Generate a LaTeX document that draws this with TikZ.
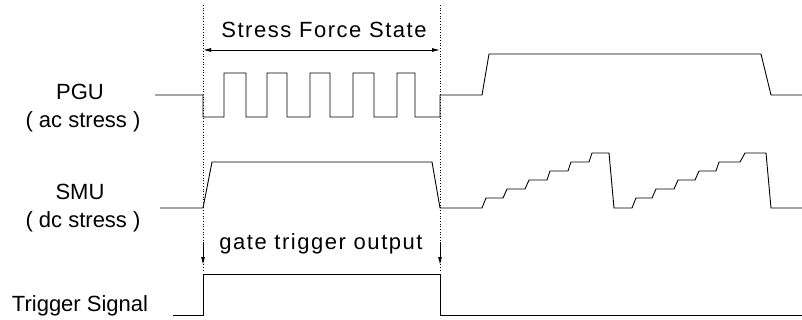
\documentclass[tikz,border=0pt]{standalone}
\usepackage{fontspec}
\setmainfont{Liberation Sans}
\usetikzlibrary{arrows.meta}

\begin{document}
\begin{tikzpicture}[x=1pt, y=-1pt,
    wave/.style={line width=0.9pt, line join=miter},
    guide/.style={dotted, line width=0.7pt},
    lbl/.style={font=\fontsize{22}{26}\selectfont, anchor=base, inner sep=0pt},
    wide/.style={lbl, font=\fontsize{22}{26}\selectfont\addfontfeatures{LetterSpace=7}},
    trig/.style={-{Latex[length=8pt,width=4pt]}, line width=0.9pt}]
        \useasboundingbox (0,0) rectangle (802,320);

        % Stress window
        \coordinate (wl) at (203,5);
        \coordinate (wr) at (440,5);
        \draw[guide] (wl) -- (203,272);
        \draw[guide] (wr) -- (440,272);
        \draw[{Latex[length=8pt,width=4pt]}-{Latex[length=8pt,width=4pt]}, line width=0.9pt] (203,50) -- (440,50);
        \node[wide] (force) at (324,38) {Stress Force State};

        % Labels
        \node[lbl] (pgu) at (80,100) {PGU};
        \node[lbl] (pgux) at (83,128) {( ac stress )};
        \node[lbl] (smu) at (80,200) {SMU};
        \node[lbl] (smux) at (83,228) {( dc stress )};
        \node[lbl] (trg) at (80,311) {Trigger Signal};

        % PGU (ac stress)
        \draw[wave] (155,95) -- (203,95) -- (203,117) -- (224,117) -- (224,73) -- (246,73)
            -- (246,117) -- (267,117) -- (267,73) -- (287,73) -- (287,117) -- (310,117)
            -- (310,73) -- (330,73) -- (330,117) -- (353,117) -- (353,73) -- (374,73)
            -- (374,117) -- (397,117) -- (397,73) -- (415,73) -- (415,117) -- (440,117)
            -- (440,95) -- (482,95) -- (489,54) -- (761,54) -- (771,95) -- (802,95);

        % SMU (dc stress)
        \draw[wave] (160,208) -- (203,208) -- (212,162) -- (432,162) -- (440,208) -- (482,208)
            -- (486,198) -- (503,198) -- (507,189) -- (525,189) -- (529,180) -- (547,180)
            -- (550,171) -- (568,171) -- (571,162) -- (589,162) -- (592,153) -- (609,153)
            -- (614,208) -- (632,208)
            -- (636,198) -- (652,198) -- (656,189) -- (674,189) -- (678,180) -- (695,180)
            -- (699,171) -- (716,171) -- (719,162) -- (740,162) -- (745,153) -- (766,153)
            -- (771,208) -- (802,208);

        % Gate trigger output
        \draw[trig] (203,242) -- (203,265);
        \draw[trig] (440,242) -- (440,265);
        \node[wide] (gate) at (321,249) {gate trigger output};

        % Trigger signal
        \draw[wave] (173,315) -- (203,315) -- (203,274) -- (440,274) -- (440,315) -- (802,315);
      \end{tikzpicture}
\end{document}
